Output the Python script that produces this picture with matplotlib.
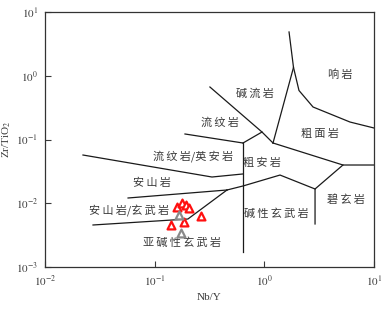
import matplotlib
matplotlib.use("Agg")
import matplotlib.pyplot as plt
from matplotlib.ticker import FixedLocator, FuncFormatter, NullLocator
import math

plt.rcParams['font.family'] = ['Liberation Serif', 'Noto Sans CJK SC', 'DejaVu Sans']
plt.rcParams['mathtext.fontset'] = 'stix'

# ---- boundary lines of the Winchester & Floyd diagram (Nb/Y, Zr/TiO2) ----
line_a = ([0.189, 0.639], [0.122, 0.0881])
line_b = ([0.639, 0.952], [0.0881, 0.131])
line_c = ([0.319, 0.952, 1.20], [0.666, 0.131, 0.0881])
line_d = ([1.20, 1.845, 1.68], [0.0881, 1.35, 4.86])
line_e = ([1.845, 2.07, 2.78, 6.04, 10.0], [1.35, 0.587, 0.3235, 0.188, 0.1515])
line_f = ([1.20, 5.21, 10.0], [0.0881, 0.0398, 0.0398])
line_g = ([5.21, 2.90, 2.90], [0.0398, 0.01674, 0.00473])
line_h = ([2.90, 1.39, 0.639, 0.4566], [0.01674, 0.0277, 0.01866, 0.01614])
line_i = ([0.639, 0.639], [0.0881, 0.00172])
line_j = ([0.0222, 0.333, 0.639], [0.0571, 0.0258, 0.0288])
line_k = ([0.0572, 0.4566], [0.01209, 0.01614])
line_l = ([0.0274, 0.201, 0.4566], [0.00456, 0.00566, 0.01614])
boundaries = [line_a, line_b, line_c, line_d, line_e, line_f, line_g,
              line_h, line_i, line_j, line_k, line_l]

# ---- field labels ----
field_names = ['响岩', '碱流岩', '流纹岩', '粗面岩', '流纹岩/英安岩', '粗安岩',
               '安山岩', '碧玄岩', '安山岩/玄武岩', '碱性玄武岩', '亚碱性玄武岩']
field_x = [4.90, 0.822, 0.394, 3.22, 0.2236, 0.953, 0.0945, 5.55, 0.0590, 1.277, 0.1774]
field_y = [1.03, 0.517, 0.1815, 0.122, 0.0551, 0.0428, 0.0208, 0.01125, 0.00756, 0.00678, 0.00238]

# ---- samples ----
red_nby = [0.1609, 0.1786, 0.1919, 0.2056, 0.2629, 0.1851, 0.1418]
red_zrti = [0.00864, 0.00998, 0.00929, 0.00842, 0.00631, 0.00508, 0.00451]
gray_nby = [0.1667, 0.1738]
gray_zrti = [0.00654, 0.00338]


def spaced(name):
    out = ''
    for i, ch in enumerate(name):
        out += ch
        if i < len(name) - 1 and ch != '/' and name[i + 1] != '/':
            out += '\u2009'
    return out


fig = plt.figure(figsize=(3.85, 3.09), dpi=100)
ax = fig.add_axes([45/385, 1-267/309, 329/385, 255/309])
ax.set_xscale('log')
ax.set_yscale('log')
ax.set_xlim(0.01, 10)
ax.set_ylim(0.001, 10)

for xs, ys in boundaries:
    ax.plot(xs, ys, color='#1a1a1a', lw=0.9, solid_joinstyle='miter')

for name, x, y in zip(field_names, field_x, field_y):
    ax.text(x, y, spaced(name), fontsize=8, color='#3a3a3a', ha='center', va='center',
            family=['Noto Sans CJK SC', 'DejaVu Sans'])

ax.scatter(red_nby, red_zrti, marker='^', s=32, facecolors='white',
           edgecolors='#ff1010', linewidths=1.6, zorder=5)
ax.scatter(gray_nby, gray_zrti, marker='^', s=32, facecolors='white',
           edgecolors='#8a8a8a', linewidths=1.6, zorder=5)

ticks = [0.01, 0.1, 1, 10]
yticks = [0.001, 0.01, 0.1, 1, 10]
def fmt(v, pos):
    e = int(round(math.log10(v)))
    return r'$10^{%d}$' % e
ax.xaxis.set_major_locator(FixedLocator(ticks))
ax.yaxis.set_major_locator(FixedLocator(yticks))
ax.xaxis.set_minor_locator(NullLocator())
ax.yaxis.set_minor_locator(NullLocator())
ax.xaxis.set_major_formatter(FuncFormatter(fmt))
ax.yaxis.set_major_formatter(FuncFormatter(fmt))
ax.tick_params(direction='in', length=4, width=0.8, labelsize=8, colors='#3a3a3a', pad=5)
for s in ax.spines.values():
    s.set_linewidth(0.9)
    s.set_color('#333333')

ax.set_xlabel('Nb/Y', fontsize=8, color='#3a3a3a', labelpad=3)
ax.set_ylabel(r'Zr/TiO$_2$', fontsize=8, color='#3a3a3a', labelpad=2)

fig.savefig('out.png', dpi=100)
